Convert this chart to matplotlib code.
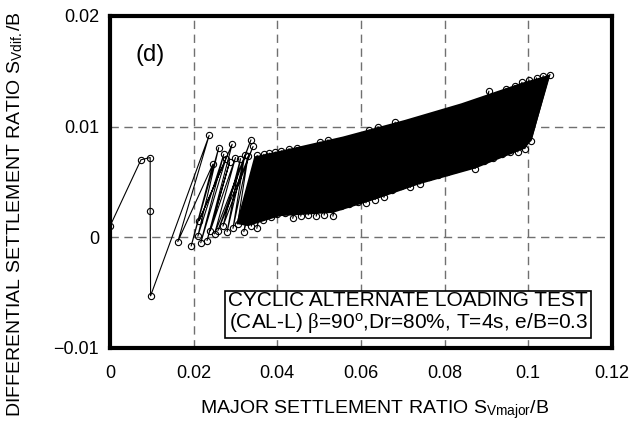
import matplotlib
matplotlib.use('Agg')
import matplotlib.pyplot as plt

plt.rcParams['font.family'] = ['Liberation Sans', 'DejaVu Sans']
plt.rcParams['mathtext.fontset'] = 'custom'
plt.rcParams['mathtext.rm'] = 'Liberation Sans'
plt.rcParams['mathtext.it'] = 'Liberation Serif'

# first cycles, read point by point
early_x = [0.0000, 0.0074, 0.0096, 0.0096, 0.0097, 0.0237, 0.0162, 0.0246, 0.0194, 0.0260, 0.0210,
           0.0272, 0.0217, 0.0277, 0.0213, 0.0292, 0.0232, 0.0286, 0.0240, 0.0300, 0.0250,
           0.0337, 0.0258, 0.0342, 0.0270, 0.0312, 0.0280, 0.0322, 0.0294, 0.0330, 0.0305]
early_y = [0.0010, 0.0070, 0.0072, 0.0024, -0.0053, 0.0092, -0.0004, 0.0066, -0.0008, 0.0081, 0.0001,
           0.0075, -0.0005, 0.0071, 0.0015, 0.0084, -0.0003, 0.0068, 0.0006, 0.0072, 0.0003,
           0.0088, 0.0006, 0.0082, 0.0010, 0.0071, 0.0005, 0.0074, 0.0008, 0.0073, 0.0012]

# dense part: peaks near the upper edge, troughs near the lower edge
peak_x = [0.0352, 0.0368, 0.0381, 0.0395, 0.0410, 0.0428, 0.0447, 0.0463, 0.0480, 0.0502, 0.0521, 0.0540,
          0.0557, 0.0576, 0.0598, 0.0620, 0.0641, 0.0660, 0.0682, 0.0705, 0.0727, 0.0748, 0.0765, 0.0788,
          0.0810, 0.0833, 0.0856, 0.0878, 0.0906, 0.0925, 0.0946, 0.0968, 0.0985, 0.1002, 0.1020, 0.1036, 0.1052]
peak_y = [0.0074, 0.0075, 0.0076, 0.0077, 0.0078, 0.0080, 0.0081, 0.0079, 0.0080, 0.0086, 0.0088, 0.0085,
          0.0087, 0.0089, 0.0091, 0.0097, 0.0100, 0.0097, 0.0104, 0.0102, 0.0104, 0.0106, 0.0108, 0.0111,
          0.0113, 0.0116, 0.0119, 0.0122, 0.0132, 0.0127, 0.0134, 0.0137, 0.0140, 0.0142, 0.0144, 0.0146, 0.0147]
trough_x = [0.0320, 0.0338, 0.0351, 0.0367, 0.0384, 0.0400, 0.0418, 0.0437, 0.0456, 0.0474, 0.0493, 0.0512,
            0.0533, 0.0552, 0.0571, 0.0593, 0.0612, 0.0634, 0.0655, 0.0674, 0.0696, 0.0718, 0.0741, 0.0762,
            0.0784, 0.0806, 0.0828, 0.0851, 0.0873, 0.0895, 0.0916, 0.0938, 0.0957, 0.0975, 0.0992, 0.1006]
trough_y = [0.0005, 0.0010, 0.0008, 0.0016, 0.0018, 0.0021, 0.0022, 0.0017, 0.0019, 0.0020, 0.0019, 0.0020,
            0.0019, 0.0028, 0.0030, 0.0032, 0.0031, 0.0034, 0.0036, 0.0043, 0.0046, 0.0045, 0.0048, 0.0054,
            0.0056, 0.0059, 0.0062, 0.0064, 0.0062, 0.0069, 0.0072, 0.0075, 0.0077, 0.0077, 0.0080, 0.0087]

# outline of the solid black band made by the overlapping cycles
band_x = [0.0345, 0.0406, 0.0557, 0.0705, 0.0840, 0.0980, 0.1052,
          0.1009, 0.0992, 0.0873, 0.0741, 0.0634, 0.0533, 0.0406, 0.0330, 0.0302]
band_y = [0.0073, 0.0078, 0.0091, 0.0106, 0.0121, 0.0139, 0.0147,
          0.0088, 0.0080, 0.0062, 0.0048, 0.0034, 0.0022, 0.0019, 0.0010, 0.0012]

xticks = [0, 0.02, 0.04, 0.06, 0.08, 0.1, 0.12]
xtick_labels = ['0', '0.02', '0.04', '0.06', '0.08', '0.1', '0.12']
yticks = [-0.01, 0, 0.01, 0.02]
ytick_labels = ['\u22120.01', '0', '0.01', '0.02']

x = list(early_x)
y = list(early_y)
for i in range(len(peak_x)):
    x.append(peak_x[i])
    y.append(peak_y[i])
    if i < len(trough_x):
        x.append(trough_x[i])
        y.append(trough_y[i])

fig = plt.figure(figsize=(6.36, 4.30), dpi=100)
ax = fig.add_axes([0.173, 0.191, 0.789, 0.772])

ax.fill(band_x, band_y, color='black', lw=0, zorder=2)
ax.plot(x, y, color='black', lw=0.8, marker='o', ms=4.5, mfc='none', mec='black', mew=0.8, zorder=3)

ax.set_xlim(0, 0.12)
ax.set_ylim(-0.01, 0.02)
ax.set_xticks(xticks)
ax.set_xticklabels(xtick_labels)
ax.set_yticks(yticks)
ax.set_yticklabels(ytick_labels)
ax.tick_params(length=0, labelsize=13)
ax.tick_params(axis='x', pad=12)
ax.tick_params(axis='y', pad=8)
ax.grid(True, color='#707070', ls=(0, (6, 4)), lw=1.0)
for s in ax.spines.values():
    s.set_linewidth(3)

ax.text(0.0096, 0.0165, '(d)', fontsize=17, ha='center', va='center')
ax.text(0.0713, -0.00685,
        'CYCLIC ALTERNATE LOADING TEST\n(CAL-L) $\\beta$=90$^{\\mathrm{o}}$,Dr=80%, T=4s, e/B=0.3',
        fontsize=15, ha='center', va='center', multialignment='center', linespacing=1.05,
        bbox=dict(boxstyle='square,pad=0.15', fc='white', ec='black', lw=1.2), zorder=5)

fig.text(375 / 636, 1 - 410 / 430, 'MAJOR SETTLEMENT RATIO S$_{\\mathrm{Vmajor}}$/B',
         fontsize=14, ha='center', va='center')
fig.text(15 / 636, 1 - 214 / 430, 'DIFFERENTIAL SETTLEMENT RATIO S$_{\\mathrm{Vdif.}}$/B',
         fontsize=14, ha='center', va='center', rotation=90)

fig.savefig('out.png', dpi=100)
